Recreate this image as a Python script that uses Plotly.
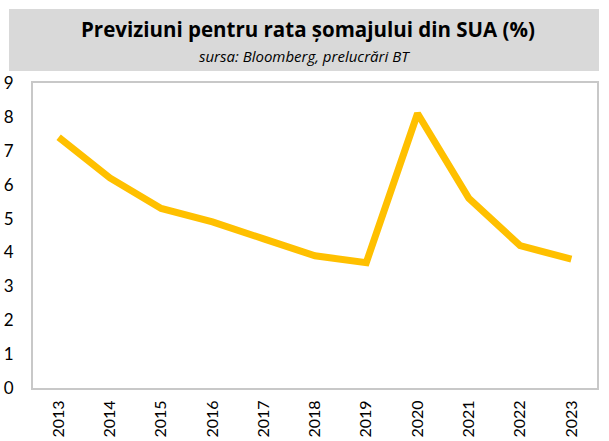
import plotly.graph_objects as go

years = ["2013", "2014", "2015", "2016", "2017", "2018", "2019", "2020", "2021", "2022", "2023"]
rates = [7.4, 6.2, 5.3, 4.9, 4.4, 3.9, 3.7, 8.1, 5.6, 4.2, 3.8]
y_ticks = [0, 1, 2, 3, 4, 5, 6, 7, 8, 9]

title_text = "Previziuni pentru rata șomajului din SUA (%)"
subtitle_text = "sursa: Bloomberg, prelucrări BT"

L, R, T, B = 33, 12, 83, 53
PW, PH = 609 - L - R, 441 - T - B

fig = go.Figure()
fig.add_trace(go.Scatter(
    x=years, y=rates, mode="lines",
    line=dict(color="#FFC000", width=7, shape="linear"),
    hoverinfo="x+y",
))

fig.update_layout(
    width=609, height=441,
    margin=dict(l=L, r=R, t=T, b=B, autoexpand=False),
    paper_bgcolor="white", plot_bgcolor="white",
    showlegend=False,
    font=dict(family="Lato, Open Sans, sans-serif", color="black"),
    shapes=[dict(type="rect", xref="paper", yref="paper",
                 x0=(9 - L) / PW, x1=(599 - L) / PW,
                 y0=(441 - B - 71) / PH, y1=(441 - B - 9) / PH,
                 fillcolor="#D9D9D9", line=dict(width=0), layer="below")],
    annotations=[
        dict(text="<b>" + title_text + "</b>", xref="paper", yref="paper",
             x=(308 - L) / PW, y=(441 - B - 29) / PH, xanchor="center", yanchor="middle",
             showarrow=False, font=dict(size=20.5, family="Open Sans, sans-serif", color="black")),
        dict(text="<i>" + subtitle_text + "</i>", xref="paper", yref="paper",
             x=(304 - L) / PW, y=(441 - B - 56) / PH, xanchor="center", yanchor="middle",
             showarrow=False, font=dict(size=15, family="Open Sans, sans-serif", color="black")),
    ],
)

fig.update_xaxes(
    type="category", tickangle=-90, tickfont=dict(size=16), automargin=False,
    showline=True, linecolor="#C8C8C8", linewidth=2, mirror=True,
    showgrid=False, ticks="", range=[-0.5, len(years) - 0.5], ticklabelstandoff=4,
)
fig.update_yaxes(
    range=[0, 9], tickvals=y_ticks, tickfont=dict(size=17), automargin=False,
    showline=True, linecolor="#C8C8C8", linewidth=2, mirror=True,
    showgrid=False, zeroline=False, ticks="", ticklabelstandoff=14,
)

fig.write_html("out.html", config={"displayModeBar": False},
               post_script="document.body.style.margin='0';document.body.style.overflow='hidden';")
